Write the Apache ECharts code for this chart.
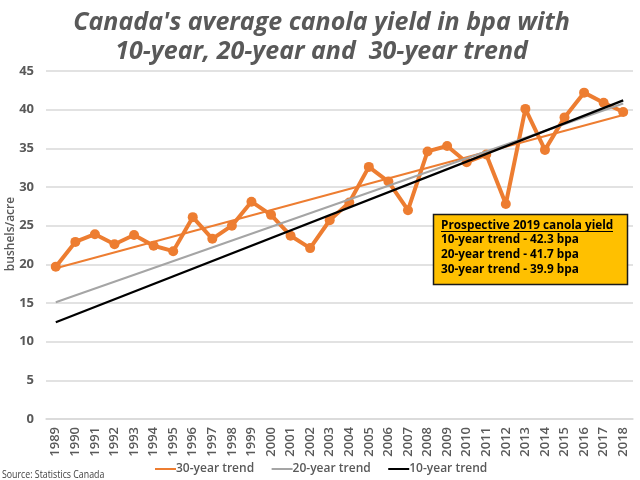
<!DOCTYPE html>
<html lang="en">
<head>
    <meta charset="UTF-8">
    <title>Canola yield</title>
    <script src="https://cdn.jsdelivr.net/npm/echarts@6/dist/echarts.min.js"></script>
    <style>
        html, body { margin: 0; padding: 0; background: #fff; }
    </style>
</head>
<body>
<div id="main" style="width: 640px; height: 480px;"></div>
<script type="text/javascript">
    var years = ['1989', '1990', '1991', '1992', '1993', '1994', '1995', '1996', '1997', '1998',
        '1999', '2000', '2001', '2002', '2003', '2004', '2005', '2006', '2007', '2008',
        '2009', '2010', '2011', '2012', '2013', '2014', '2015', '2016', '2017', '2018'];
    var yieldBpa = [19.7, 22.9, 23.9, 22.6, 23.8, 22.4, 21.7, 26.1, 23.3, 25.0,
        28.1, 26.4, 23.7, 22.1, 25.7, 28.0, 32.6, 30.7, 27.0, 34.6,
        35.3, 33.2, 34.2, 27.8, 40.1, 34.8, 39.0, 42.2, 40.9, 39.7];
    var trendYears = ['1989', '2018'];
    var trend30 = [19.5, 39.3];
    var trend20 = [15.1, 40.8];
    var trend10 = [12.5, 41.2];
    var boxLines = ['Prospective 2019 canola yield', '10-year trend - 42.3 bpa',
        '20-year trend - 41.7 bpa', '30-year trend - 39.9 bpa'];

    var font = '"Open Sans", sans-serif';
    var grey = '#595959';

    function trendSeries(name, color, values, width) {
        return {
            name: name,
            type: 'line',
            data: trendYears.map(function (y, i) { return [y, values[i]]; }),
            symbol: 'none',
            lineStyle: { color: color, width: width },
            itemStyle: { color: color },
            z: 3
        };
    }

    var myChart = echarts.init(document.getElementById('main'));
    myChart.setOption({
        animation: false,
        backgroundColor: '#fff',
        title: {
            text: "Canada's average canola yield in bpa with\n10-year, 20-year and  30-year trend",
            left: 316.5,
            top: 3,
            textAlign: 'center',
            textStyle: {
                fontFamily: font, fontSize: 25, fontWeight: 'bold', fontStyle: 'italic',
                color: grey, lineHeight: 29
            }
        },
        grid: { left: 46, right: 7, top: 71, bottom: 61, outerBoundsMode: 'none' },
        legend: {
            data: ['30-year trend', '20-year trend', '10-year trend'],
            left: 150,
            top: 458,
            icon: 'rect',
            itemWidth: 21,
            itemHeight: 2,
            itemGap: 17.5,
            textStyle: { fontFamily: font, fontSize: 12, fontWeight: 600, color: grey, padding: [0, 0, 0, -5] }
        },
        xAxis: {
            type: 'category',
            data: years,
            axisTick: { show: false },
            axisLine: { lineStyle: { color: '#d9d9d9', width: 1.5 } },
            axisLabel: {
                rotate: 90, interval: 0, margin: 8,
                fontFamily: font, fontSize: 13, fontWeight: 600, color: grey
            }
        },
        yAxis: {
            type: 'value',
            min: 0,
            max: 45,
            interval: 5,
            name: 'bushels/acre',
            nameLocation: 'middle',
            nameGap: 29,
            nameMoveOverlap: false,
            nameTextStyle: { fontFamily: font, fontSize: 12, fontWeight: 600, color: grey, padding: [0, 0, 0, 22] },
            axisLabel: { margin: 12, fontFamily: font, fontSize: 13, fontWeight: 'bold', color: grey },
            splitLine: { lineStyle: { color: '#d9d9d9', width: 1.5 } }
        },
        series: [
            {
                name: 'Yield',
                type: 'line',
                data: yieldBpa,
                symbol: 'circle',
                symbolSize: 10,
                lineStyle: { color: '#ed7d31', width: 4 },
                itemStyle: { color: '#ed7d31' },
                z: 2
            },
            trendSeries('30-year trend', '#ed7d31', trend30, 2),
            trendSeries('20-year trend', '#a5a5a5', trend20, 2),
            trendSeries('10-year trend', '#000000', trend10, 2.2)
        ],
        graphic: [
            {
                type: 'rect',
                shape: { x: 433.5, y: 214.5, width: 194, height: 70 },
                style: { fill: '#ffc000', stroke: '#1a1a1a', lineWidth: 1.5 },
                z: 10
            },
            {
                type: 'text',
                x: 441,
                y: 218,
                style: {
                    text: boxLines.join('\n'),
                    fontFamily: font, fontSize: 11.8, fontWeight: 'bold', fill: '#000',
                    lineHeight: 14.7
                },
                z: 11
            },
            {
                type: 'line',
                shape: { x1: 441, y1: 231.5, x2: 613, y2: 231.5 },
                style: { stroke: '#000', lineWidth: 1 },
                z: 11
            },
            {
                type: 'text',
                x: 2,
                y: 469,
                scaleX: 0.8,
                style: { text: 'Source: Statistics Canada', fontFamily: font, fontSize: 11, fill: '#404040' },
                z: 11
            }
        ]
    });
</script>
</body>
</html>
